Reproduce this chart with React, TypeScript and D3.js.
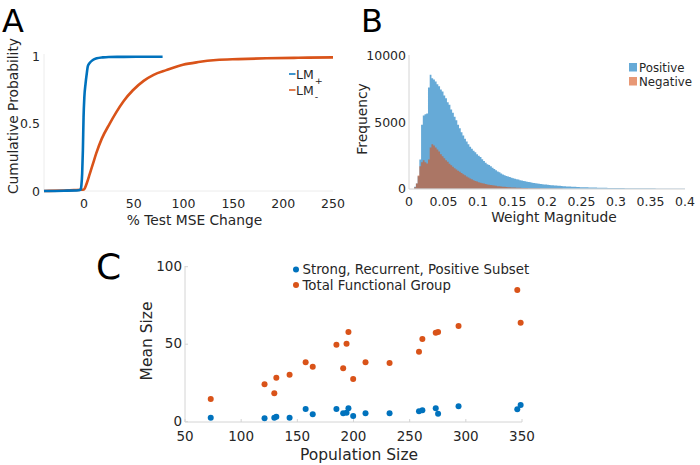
import React, { useEffect, useRef } from 'react';
import * as d3 from 'd3';

// Panel A: cumulative curves (% change, probability)
const lmPlusX = [-40, -20, -5, -3.3, -2.5, -1.7, -1, -0.3, 0.5, 1.7, 3, 4, 6, 9, 13, 19, 25, 40, 60, 79];
const lmPlusY = [0, 0.002, 0.006, 0.01, 0.04, 0.13, 0.3, 0.55, 0.7, 0.8, 0.88, 0.93, 0.955, 0.975, 0.988, 0.995, 0.998, 0.999, 1, 1];
const lmMinusX = [-40, -20, -10, -3, 0, 3, 6, 9, 12.4, 18, 25.8, 32, 40, 49.2, 60, 70, 82.7, 99.4, 115, 132.9, 155, 183, 215, 250];
const lmMinusY = [0, 0.004, 0.007, 0.009, 0.012, 0.06, 0.13, 0.2, 0.28, 0.39, 0.5, 0.58, 0.67, 0.75, 0.82, 0.865, 0.9, 0.94, 0.96, 0.975, 0.982, 0.988, 0.992, 0.995];

// Panel B: histogram, bin width 0.0025 from 0 to 0.4
const binWidth = 0.0025;
const positiveCounts = [
  0, 0, 0, 150, 400, 950, 2200, 4800, 5500, 5600,
  5650, 7600, 8550, 8300, 8200, 8050, 7850, 7700, 7450, 7300,
  7000, 6800, 6500, 6300, 5950, 5700, 5400, 5150, 4800, 4550,
  4250, 4000, 3750, 3550, 3350, 3150, 3000, 2850, 2750, 2600,
  2480, 2380, 2220, 2080, 1950, 1850, 1780, 1700, 1580, 1480,
  1400, 1300, 1250, 1150, 1080, 1020, 960, 920, 880, 830,
  790, 750, 720, 690, 650, 620, 590, 560, 530, 510,
  490, 460, 440, 420, 400, 380, 360, 345, 330, 315,
  300, 290, 275, 265, 250, 240, 230, 220, 210, 200,
  190, 180, 175, 165, 160, 150, 145, 140, 130, 125,
  120, 115, 110, 108, 104, 100, 96, 92, 90, 86,
  82, 78, 75, 72, 70, 68, 66, 64, 62, 60,
  58, 56, 55, 53, 52, 50, 49, 47, 46, 45,
  44, 43, 42, 41, 40, 39, 38, 37, 36, 35,
  34, 33, 32, 31, 30, 30, 29, 28, 27, 27,
  26, 25, 25, 24, 23, 23, 22, 22, 21, 20,
];
const negativeCounts = [
  0, 0, 0, 120, 400, 1000, 1700, 2000, 2150, 2000,
  1900, 2200, 3100, 3350, 3250, 3100, 2950, 2800, 2600, 2450,
  2300, 2150, 2020, 1880, 1760, 1650, 1540, 1450, 1360, 1270,
  1180, 1090, 1010, 930, 850, 780, 710, 650, 590, 540,
  500, 460, 420, 390, 360, 330, 300, 280, 260, 240,
  220, 200, 185, 170, 155, 145, 135, 125, 115, 105,
  98, 90, 84, 78, 72, 67, 62, 58, 54, 50,
  46, 43, 40, 37, 34, 32, 30, 28, 26, 24,
  22, 21, 20, 19, 18, 17, 16, 15, 14, 13,
  12, 12, 11, 11, 10, 10, 9, 9, 8, 8,
  8, 7, 7, 7, 6, 6, 6, 6, 5, 5,
  5, 5, 5, 4, 4, 4, 4, 4, 4, 3,
  3, 3, 3, 3, 3, 3, 3, 3, 2, 2,
  2, 2, 2, 2, 2, 2, 2, 2, 2, 2,
  2, 2, 2, 1, 1, 1, 1, 1, 1, 1,
  1, 1, 1, 1, 1, 1, 1, 1, 1, 1,
];

// Panel C: population size vs mean size
const popSize = [72.9, 120.8, 129.5, 131.3, 143.1, 157.4, 163.7, 184.8, 190.8, 193.8, 195.5, 199.7, 210.7, 232.1, 258.3, 261.3, 273.2, 275.3, 293.5, 345.8, 348.8];
const totalGroup = [14.6, 24.1, 18.3, 28.4, 30.3, 38.3, 35.5, 49.7, 34.5, 50.3, 57.9, 27.5, 38.3, 37.9, 45.2, 53.4, 57.4, 57.9, 61.7, 85, 63.9];
const strongSubset = [2.6, 2.2, 2.6, 3.2, 2.6, 8.2, 4.8, 8.2, 5.4, 5.8, 8.6, 3.7, 5.4, 5.4, 6.7, 7.4, 8.6, 5.2, 9.9, 8.0, 10.8];

const aTicksX = [0, 50, 100, 150, 200, 250];
const aTicksY = [0, 0.5, 1];
const bTicksX = [0, 0.05, 0.1, 0.15, 0.2, 0.25, 0.3, 0.35, 0.4];
const bTicksY = [0, 5000, 10000];
const cTicksX = [50, 100, 150, 200, 250, 300, 350];
const cTicksY = [0, 50, 100];

const BLUE = '#0072BD';
const ORANGE = '#D95319';
const FONT = 'DejaVu Sans, sans-serif';
const AXIS = '#d4d4d4';
const TXT = '#262626';

export default function App() {
  const ref = useRef<SVGSVGElement | null>(null);

  useEffect(() => {
    document.body.style.margin = '0';
    const svg = d3.select(ref.current);
    svg.selectAll('*').remove();
    svg.attr('font-family', FONT);

    const letter = (t: string, x: number, y: number, size: number) =>
      svg.append('text').attr('x', x).attr('y', y).attr('font-size', size).attr('fill', '#000').text(t);

    // ---------- A ----------
    const xa = d3.scaleLinear().domain([-40, 250]).range([44, 333]);
    const ya = d3.scaleLinear().domain([0, 1]).range([191, 56.7]);
    const ga = svg.append('g');
    ga.append('line').attr('x1', 44).attr('x2', 44).attr('y1', 54).attr('y2', 191).attr('stroke', '#ececec');
    ga.append('line').attr('x1', 44).attr('x2', 333).attr('y1', 191).attr('y2', 191).attr('stroke', '#ececec');
    ga.selectAll('.xt').data(aTicksX).enter().append('text')
      .attr('x', d => xa(d)).attr('y', 208).attr('text-anchor', 'middle')
      .attr('font-size', 12.5).attr('fill', TXT).text(d => d);
    ga.selectAll('.yt').data(aTicksY).enter().append('text')
      .attr('x', 40).attr('y', d => ya(d) + 4.5).attr('text-anchor', 'end')
      .attr('font-size', 12.5).attr('fill', TXT).text(d => d);
    ga.append('text').attr('x', 194.5).attr('y', 225).attr('text-anchor', 'middle')
      .attr('font-size', 13.8).attr('fill', TXT).text('% Test MSE Change');
    ga.append('text').attr('transform', `translate(18,116) rotate(-90)`)
      .attr('text-anchor', 'middle').attr('font-size', 13.8).attr('fill', TXT).text('Cumulative Probability');
    const lineA = d3.line<[number, number]>().x(d => xa(d[0])).y(d => ya(d[1])).curve(d3.curveMonotoneX);
    ga.append('path').attr('d', lineA(lmMinusX.map((x, i) => [x, lmMinusY[i]]))!)
      .attr('fill', 'none').attr('stroke', ORANGE).attr('stroke-width', 2.6);
    ga.append('path').attr('d', lineA(lmPlusX.map((x, i) => [x, lmPlusY[i]]))!)
      .attr('fill', 'none').attr('stroke', BLUE).attr('stroke-width', 2.6);
    [['+', BLUE, 74], ['-', ORANGE, 90]].forEach(([s, c, y]) => {
      ga.append('line').attr('x1', 289).attr('x2', 295.5).attr('y1', y as number).attr('y2', y as number)
        .attr('stroke', c as string).attr('stroke-width', 1.5);
      const t = ga.append('text').attr('x', 296).attr('y', (y as number) + 4.5).attr('font-size', 12.5).attr('fill', TXT);
      t.append('tspan').text('LM');
      t.append('tspan').attr('dy', 5).attr('dx', 1).attr('font-size', 9.5).text(s as string);
    });
    letter('A', 2, 32, 32);

    // ---------- B ----------
    const xb = d3.scaleLinear().domain([0, 0.4]).range([409, 685]);
    const yb = d3.scaleLinear().domain([0, 10000]).range([188.8, 55.5]);
    const gb = svg.append('g');
    const area = d3.area<number>()
      .x((_, i) => xb(i * binWidth)).y0(yb(0)).y1(d => yb(d))
      .curve(d3.curveStepAfter);
    gb.append('path').attr('d', area([...positiveCounts, positiveCounts[positiveCounts.length - 1]])!)
      .attr('fill', BLUE).attr('fill-opacity', 0.6);
    gb.append('path').attr('d', area([...negativeCounts, negativeCounts[negativeCounts.length - 1]])!)
      .attr('fill', ORANGE).attr('fill-opacity', 0.6);
    gb.append('line').attr('x1', 409).attr('x2', 409).attr('y1', 55).attr('y2', 189).attr('stroke', AXIS);
    gb.append('line').attr('x1', 409).attr('x2', 685).attr('y1', 189).attr('y2', 189).attr('stroke', AXIS);
    gb.selectAll('.xt').data(bTicksX).enter().append('text')
      .attr('x', d => xb(d)).attr('y', 206).attr('text-anchor', 'middle')
      .attr('font-size', 12.5).attr('fill', TXT).text(d => d);
    gb.selectAll('.yt').data(bTicksY).enter().append('text')
      .attr('x', 406).attr('y', d => yb(d) + 4.5).attr('text-anchor', 'end')
      .attr('font-size', 12.5).attr('fill', TXT).text(d => d);
    gb.append('text').attr('x', 554).attr('y', 221.5).attr('text-anchor', 'middle')
      .attr('font-size', 13.8).attr('fill', TXT).text('Weight Magnitude');
    gb.append('text').attr('transform', `translate(367,119) rotate(-90)`)
      .attr('text-anchor', 'middle').attr('font-size', 13.8).attr('fill', TXT).text('Frequency');
    [['Positive', BLUE, 63], ['Negative', ORANGE, 77]].forEach(([s, c, y]) => {
      gb.append('rect').attr('x', 629).attr('y', y as number).attr('width', 8).attr('height', 8.5)
        .attr('fill', c as string).attr('fill-opacity', 0.6);
      gb.append('text').attr('x', 639).attr('y', (y as number) + 8.5).attr('font-size', 11.8)
        .attr('fill', TXT).text(s as string);
    });
    letter('B', 361, 32, 32);

    // ---------- C ----------
    const xc = d3.scaleLinear().domain([50, 350]).range([185, 522]);
    const yc = d3.scaleLinear().domain([0, 100]).range([421.7, 266.7]);
    const gc = svg.append('g');
    gc.append('line').attr('x1', 185).attr('x2', 185).attr('y1', 266).attr('y2', 422).attr('stroke', AXIS);
    gc.append('line').attr('x1', 185).attr('x2', 522).attr('y1', 422).attr('y2', 422).attr('stroke', AXIS);
    gc.selectAll('.xtm').data(cTicksX).enter().append('line')
      .attr('x1', d => xc(d)).attr('x2', d => xc(d)).attr('y1', 422).attr('y2', 419).attr('stroke', AXIS);
    gc.selectAll('.ytm').data(cTicksY).enter().append('line')
      .attr('x1', 185).attr('x2', 188).attr('y1', d => yc(d)).attr('y2', d => yc(d)).attr('stroke', AXIS);
    gc.selectAll('.xt').data(cTicksX).enter().append('text')
      .attr('x', d => xc(d)).attr('y', 441).attr('text-anchor', 'middle')
      .attr('font-size', 13.5).attr('fill', TXT).text(d => d);
    gc.selectAll('.yt').data(cTicksY).enter().append('text')
      .attr('x', 182).attr('y', d => yc(d) + 4).attr('text-anchor', 'end')
      .attr('font-size', 13.5).attr('fill', TXT).text(d => d);
    gc.append('text').attr('x', 359).attr('y', 460).attr('text-anchor', 'middle')
      .attr('font-size', 15.5).attr('fill', TXT).text('Population Size');
    gc.append('text').attr('transform', `translate(152,341) rotate(-90)`)
      .attr('text-anchor', 'middle').attr('font-size', 15.5).attr('fill', TXT).text('Mean Size');
    gc.selectAll('.tot').data(popSize).enter().append('circle')
      .attr('cx', d => xc(d)).attr('cy', (_, i) => yc(totalGroup[i])).attr('r', 3).attr('fill', ORANGE);
    gc.selectAll('.str').data(popSize).enter().append('circle')
      .attr('cx', d => xc(d)).attr('cy', (_, i) => yc(strongSubset[i])).attr('r', 3).attr('fill', BLUE);
    [['Strong, Recurrent, Positive Subset', BLUE, 269.5], ['Total Functional Group', ORANGE, 285]].forEach(([s, c, y]) => {
      gc.append('circle').attr('cx', 296).attr('cy', y as number).attr('r', 3).attr('fill', c as string);
      gc.append('text').attr('x', 302.5).attr('y', (y as number) + 4.5).attr('font-size', 13.3)
        .attr('fill', TXT).text(s as string);
    });
    letter('C', 96, 279, 36);
  }, []);

  return <svg ref={ref} width={700} height={465} style={{ display: 'block', background: '#fff' }} />;
}
